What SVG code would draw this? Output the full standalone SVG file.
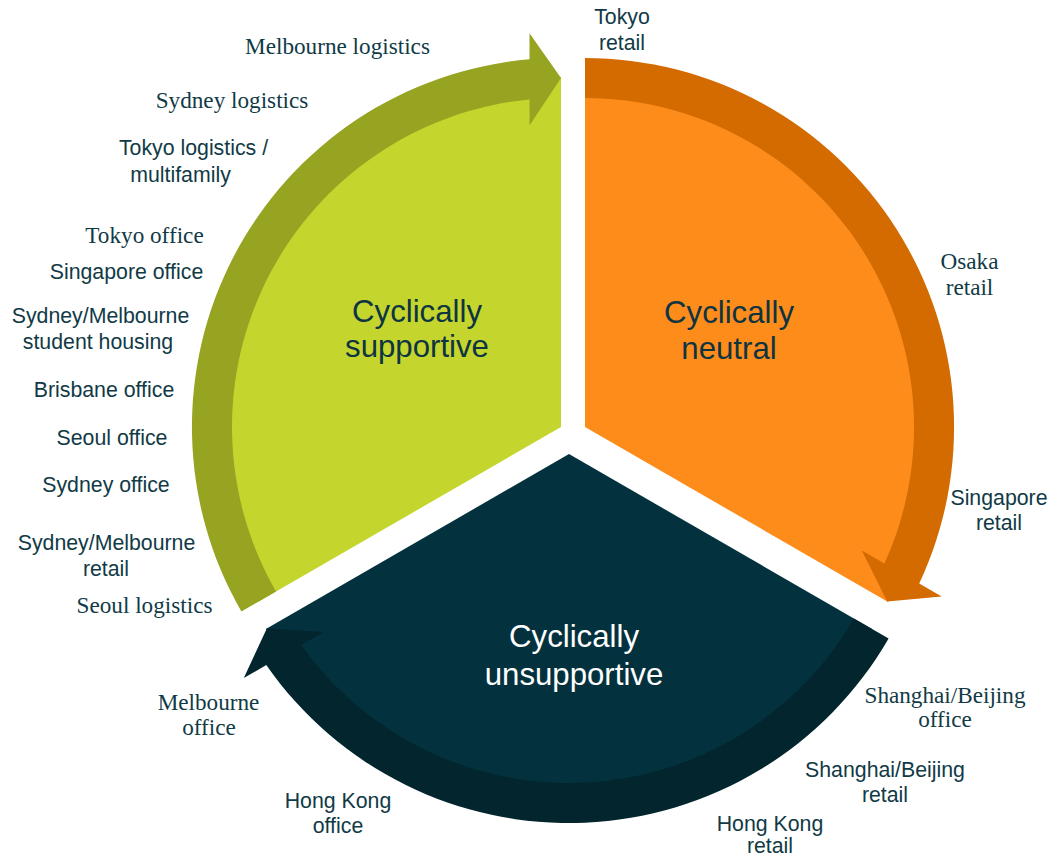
<svg xmlns="http://www.w3.org/2000/svg" width="1051" height="859" viewBox="0 0 1051 859">
<style>
.sans{font-family:"Liberation Sans",Arial,sans-serif;font-size:21.3px;fill:#113A46;text-anchor:middle}
.serif{font-family:"Liberation Serif","Times New Roman",serif;font-size:23.2px;fill:#113A46;text-anchor:middle}
.big{font-family:"Liberation Sans",Arial,sans-serif;font-size:31.2px;fill:#0F3441;text-anchor:middle}
</style>
<rect width="1051" height="859" fill="#FFFFFF"/>
<g id="sector-supportive">
<path d="M561,427 L561,77 A350,350 0 0 0 257.9,602 Z" fill="#C4D62E"/>
</g>
<g id="sector-neutral">
<path d="M585,427 L585,77 A350,350 0 0 1 888.1,602 Z" fill="#FD8C1B"/>
</g>
<g id="sector-unsupportive">
<path d="M569,454 L872.1,629 A350,350 0 0 1 265.9,629 Z" fill="#03323E"/>
</g>
<g id="connectors">
<path d="M241.4,611.5 A369,369 0 0 1 529.5,59.3 L529.5,33.3 L561,78 L529.5,125.6 L529.5,99.5 A329,329 0 0 0 276.1,591.5 Z" fill="#97A422"/>
<path d="M585,58 A369,369 0 0 1 919.2,583.6 L941.7,596.6 L887.2,601.5 L861.8,550.4 L884.4,563.5 A329,329 0 0 0 585,98 Z" fill="#D36B00"/>
<path d="M888.6,638.5 A369,369 0 0 1 266.3,665.1 L243.8,678.1 L266.8,628.5 L323.7,632 L301.1,645 A329,329 0 0 0 853.9,618.5 Z" fill="#02252E"/>
</g>
<g id="label-supportive">
<text class="big" x="417" y="322">Cyclically</text>
<text class="big" x="417" y="357">supportive</text>
</g>
<g id="label-neutral">
<text class="big" x="729" y="323">Cyclically</text>
<text class="big" x="729" y="359">neutral</text>
</g>
<g id="label-unsupportive">
<text class="big" x="574" y="647" style="fill:#FFFFFF">Cyclically</text>
<text class="big" x="574" y="685" style="fill:#FFFFFF">unsupportive</text>
</g>
<g id="item-melbourne-logistics"><text class="serif" x="337.5" y="54">Melbourne logistics</text></g>
<g id="item-sydney-logistics"><text class="serif" x="232" y="108">Sydney logistics</text></g>
<g id="item-tokyo-logistics"><text class="sans" x="193.5" y="155">Tokyo logistics /</text><text class="sans" x="180.5" y="181.5">multifamily</text></g>
<g id="item-tokyo-office"><text class="serif" x="144.5" y="243">Tokyo office</text></g>
<g id="item-singapore-office"><text class="sans" x="126.5" y="279">Singapore office</text></g>
<g id="item-sydney-melbourne-student"><text class="sans" x="100.5" y="323">Sydney/Melbourne</text><text class="sans" x="98" y="349">student housing</text></g>
<g id="item-brisbane-office"><text class="sans" x="104" y="397">Brisbane office</text></g>
<g id="item-seoul-office"><text class="sans" x="112" y="445">Seoul office</text></g>
<g id="item-sydney-office"><text class="sans" x="106" y="492">Sydney office</text></g>
<g id="item-sydney-melbourne-retail"><text class="sans" x="106.5" y="550">Sydney/Melbourne</text><text class="sans" x="106" y="576">retail</text></g>
<g id="item-seoul-logistics"><text class="serif" x="144.5" y="613">Seoul logistics</text></g>
<g id="item-tokyo-retail"><text class="sans" x="622" y="24">Tokyo</text><text class="sans" x="622" y="50">retail</text></g>
<g id="item-osaka-retail"><text class="serif" x="969.5" y="269">Osaka</text><text class="serif" x="969.5" y="295">retail</text></g>
<g id="item-singapore-retail"><text class="sans" x="999" y="505">Singapore</text><text class="sans" x="999" y="530">retail</text></g>
<g id="item-melbourne-office"><text class="serif" x="208.5" y="710">Melbourne</text><text class="serif" x="209" y="735">office</text></g>
<g id="item-hong-kong-office"><text class="sans" x="338" y="808">Hong Kong</text><text class="sans" x="338" y="833">office</text></g>
<g id="item-shanghai-beijing-office"><text class="serif" x="945" y="702.5">Shanghai/Beijing</text><text class="serif" x="945" y="726.5">office</text></g>
<g id="item-shanghai-beijing-retail"><text class="sans" x="885" y="776.5">Shanghai/Beijing</text><text class="sans" x="885" y="801.5">retail</text></g>
<g id="item-hong-kong-retail"><text class="sans" x="770" y="830.5">Hong Kong</text><text class="sans" x="770" y="853">retail</text></g>
</svg>
